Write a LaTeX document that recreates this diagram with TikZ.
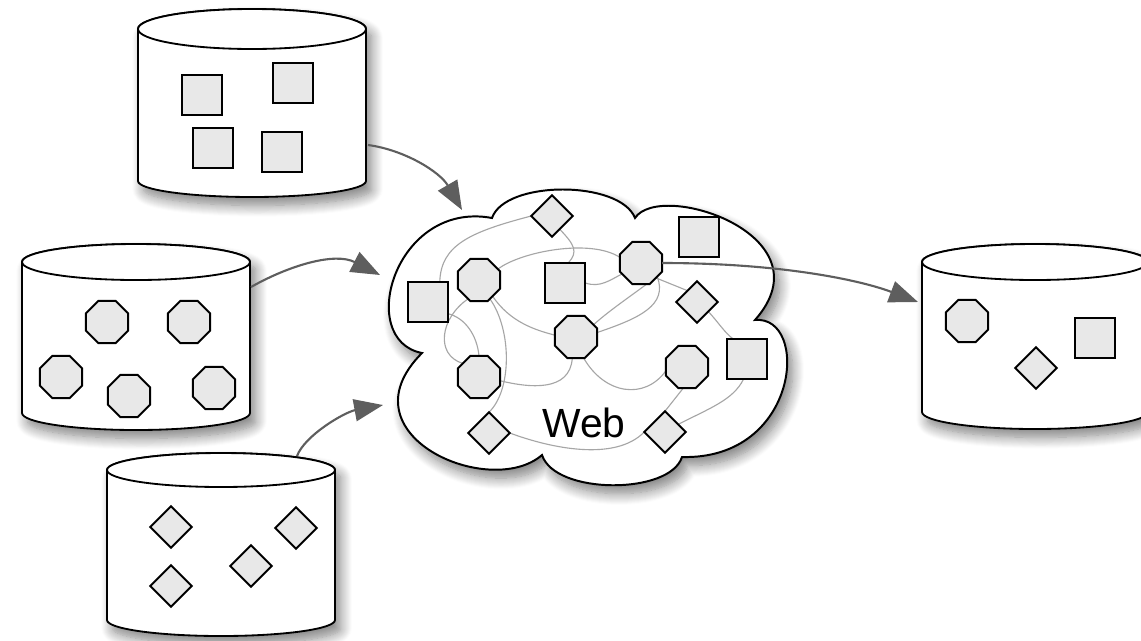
\documentclass[tikz,border=0pt]{standalone}
\usepackage{fontspec}
\newfontfamily\websf{Liberation Sans}
\usetikzlibrary{arrows.meta,shapes.geometric,shadows.blur}
\definecolor{shapefill}{HTML}{E8E8E8}
\definecolor{arrowgray}{HTML}{5E5E5E}
\definecolor{linegray}{HTML}{A6A6A6}
\pgfdeclarelayer{bodies}
\pgfdeclarelayer{links}
\pgfsetlayers{bodies,links,main}
\newcommand{\mycyl}[6]{%
  \path[cylbody] ({#1-#2},#3) -- ({#1-#2},#5)
     arc[start angle=180,end angle=0,x radius=#2,y radius=#6]
     -- ({#1+#2},#3)
     arc[start angle=0,end angle=-180,x radius=#2,y radius=#4] -- cycle;
  \path[cyltop] (#1,#3) ellipse[x radius=#2,y radius=#4];
}
\begin{document}
\begin{tikzpicture}[x=0.025cm,y=-0.025cm,
  sq/.style={draw, fill=shapefill, rectangle, minimum size=1.02cm, inner sep=0pt, outer sep=0pt, line width=1.35pt},
  oct/.style={draw, fill=shapefill, regular polygon, regular polygon sides=8, minimum size=1.14cm, inner sep=0pt, outer sep=0pt, line width=1.35pt},
  dia/.style={draw, fill=shapefill, diamond, aspect=1, minimum size=1.04cm, inner sep=0pt, outer sep=0pt, line width=1.35pt},
  gl/.style={draw=linegray, line width=0.8pt},
  conn/.style={draw=arrowgray, line width=1.5pt, -{Triangle[length=0.72cm,width=0.55cm]}},
  cylbody/.style={draw, fill=white, line width=1.3pt, blur shadow={shadow xshift=4pt, shadow yshift=-6pt, shadow blur radius=8pt, shadow blur steps=12, shadow opacity=50}},
  cyltop/.style={draw, fill=white, line width=1.3pt},
  cloudsty/.style={draw, fill=white, line width=1.4pt, blur shadow={shadow xshift=4pt, shadow yshift=-6pt, shadow blur radius=8pt, shadow blur steps=12, shadow opacity=50}},
]
\useasboundingbox (0,0) rectangle (1141,640);

\begin{pgfonlayer}{bodies}
% cylinders
\mycyl{252}{114}{29}{20}{181}{16}
\mycyl{136}{114}{262}{18}{413}{17}
\mycyl{221}{114}{470}{17}{620}{16}
\mycyl{1035}{113}{262}{18}{412}{17}
% cloud
\path[cloudsty] (422,353) .. controls (355,340) and (395,200) .. (492,218)
  .. controls (505,180) and (620,180) .. (635,218)
  .. controls (660,180) and (830,235) .. (755,320)
  .. controls (810,315) and (800,460) .. (682,457)
  .. controls (670,495) and (555,495) .. (542,455)
  .. controls (490,500) and (340,435) .. cycle;
\end{pgfonlayer}

% top cylinder: squares
\node[sq] (s1) at (202,95) {};
\node[sq] (s2) at (293,83) {};
\node[sq] (s3) at (213,148) {};
\node[sq] (s4) at (282,152) {};
% middle cylinder: octagons
\node[oct] (o1) at (107,322) {};
\node[oct] (o2) at (189,322) {};
\node[oct] (o3) at (61,377) {};
\node[oct] (o4) at (129,396) {};
\node[oct] (o5) at (214,388) {};
% bottom cylinder: diamonds
\node[dia] (d1) at (171,527) {};
\node[dia] (d2) at (296,528) {};
\node[dia] (d3) at (251,566) {};
\node[dia] (d4) at (171,586) {};
% right cylinder
\node[oct] (ro) at (967,321) {};
\node[dia] (rd) at (1036,368) {};
\node[sq] (rs) at (1095,338) {};

% web nodes inside the cloud
\node[dia] (cD) at (552,216) {};
\node[sq] (cS1) at (699,237) {};
\node[oct] (cOA) at (479,280) {};
\node[sq] (cSM) at (565,283) {};
\node[oct] (cOB) at (641,263) {};
\node[sq] (cSL) at (428,302) {};
\node[dia] (cDR) at (697,302) {};
\node[oct] (cOC) at (576,337) {};
\node[sq] (cSR) at (747,359) {};
\node[oct] (cOD) at (479,377) {};
\node[oct] (cOE) at (687,367) {};
\node[dia] (cDBL) at (489,433) {};
\node[dia] (cDBR) at (665,432) {};

\node[font=\websf\fontsize{29}{31}\selectfont] (web) at (584,423) {Web};

% gray web links (behind shapes)
\begin{pgfonlayer}{links}
\path[gl] (cSL.60) .. controls (441,245) and (470,232) .. (cD.west);
\path[gl] (cD.300) .. controls (575,245) and (578,252) .. (cSM.80);
\path[gl] (cOA.30) .. controls (520,252) and (590,238) .. (cOB.165);
\path[gl] (cSM.east) .. controls (600,288) and (610,280) .. (cOB.-150);
\path[gl] (cOB.-45) -- (cDR.130);
\path[gl] (cDR.-40) .. controls (718,322) and (725,333) .. (cSR.125);
\path[gl] (cOB.-30) .. controls (640,290) and (612,308) .. (cOC.35);
\path[gl] (cOB.-40) .. controls (668,305) and (640,318) .. (cOC.12);
\path[gl] (cOA.-50) .. controls (510,322) and (535,330) .. (cOC.175);
\path[gl] (cOC.-100) .. controls (570,392) and (530,388) .. (cOD.-10);
\path[gl] (cOC.-70) .. controls (605,395) and (645,400) .. (cOE.190);
\path[gl] (cOA.-60) .. controls (512,330) and (512,390) .. (cDBL.north);
\path[gl] (cOA.-120) .. controls (440,318) and (435,355) .. (cOD.140);
\path[gl] (cSL.-30) .. controls (465,318) and (477,335) .. (cOD.north);
\path[gl] (cOE.-100) -- (cDBR.north);
\path[gl] (cDBL.east) .. controls (550,448) and (615,462) .. (cDBR.west);
\path[gl] (cDBR.30) .. controls (710,408) and (733,400) .. (cSR.-100);
\end{pgfonlayer}

% connectors
\coordinate (a1s) at (368,145);
\coordinate (a1e) at (462,210);
\coordinate (a2s) at (251,287);
\coordinate (a2e) at (380,275);
\coordinate (a3s) at (297,456);
\coordinate (a3e) at (383,405);
\coordinate (a4e) at (918,302);
\draw[conn] (a1s) .. controls (405,150) and (440,172) .. (a1e);
\draw[conn] (a2s) .. controls (290,265) and (335,252) .. (a2e);
\draw[conn] (a3s) .. controls (305,435) and (345,412) .. (a3e);
\draw[conn] (cOB.east) .. controls (780,263) and (860,280) .. (a4e);
\end{tikzpicture}
\end{document}
